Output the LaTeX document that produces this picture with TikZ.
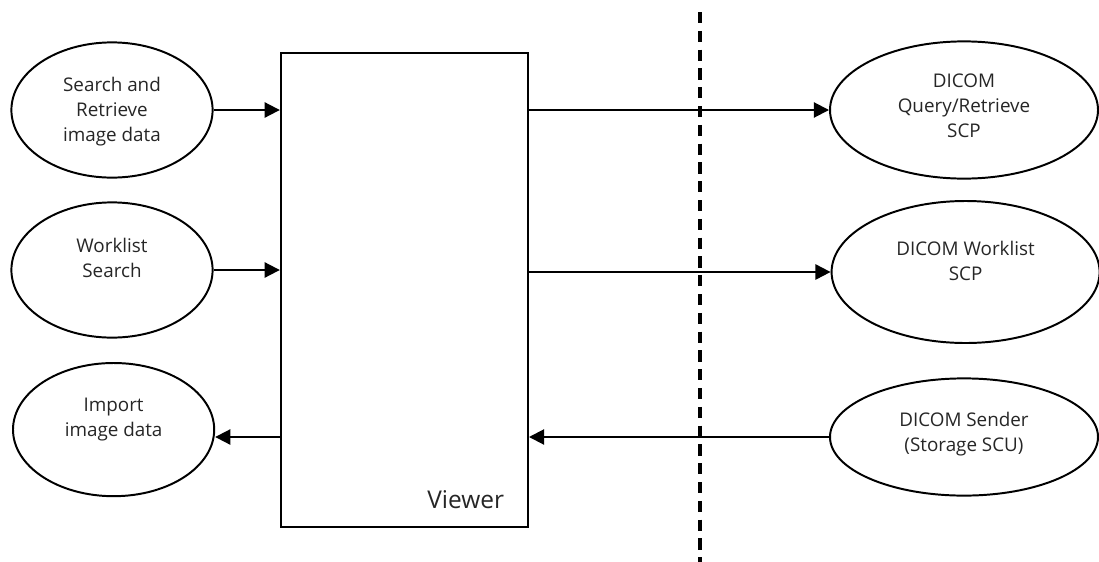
\documentclass[tikz,border=0pt]{standalone}
\usepackage{fontspec}
\setmainfont{Open Sans}
\usetikzlibrary{shapes.geometric,arrows.meta}
\begin{document}
\begin{tikzpicture}[oval/.style={draw=black,ellipse,line width=1.4pt,minimum width=5.03cm,minimum height=3.38cm},
roval/.style={oval,minimum width=6.7cm},
txt/.style={align=center,text=black!85,font=\fontsize{13.4}{17.8}\selectfont},
arr/.style={line width=1.4pt,-{Triangle[length=0.38cm,width=0.38cm]}},
divider/.style={line width=2.5pt,dash pattern=on 0.28cm off 0.19cm}]
\useasboundingbox (0,0) rectangle (27.475,-14.025);
\node[draw=black,rectangle,line width=1.4pt,minimum width=6.18cm,minimum height=11.85cm] (V) at (10.11,-7.25) {};
\node[anchor=base east,text=black!85,font=\fontsize{17.4}{20}\selectfont] (Vt) at ([xshift=-0.5cm,yshift=0.475cm]V.south east) {Viewer};
\node[oval] (SR) at (2.8,-2.75) {};
\node[txt] (SRt) at (2.8,-2.8) {Search and\\Retrieve\\image data};
\node[oval] (WS) at (2.8,-6.75) {};
\node[txt] (WSt) at (2.8,-6.45) {Worklist\\Search};
\node[oval,minimum height=3.33cm] (IM) at (2.84,-10.74) {};
\node[txt] (IMt) at (2.84,-10.48) {Import\\image data};
\node[roval,minimum height=3.43cm] (QR) at (24.1,-2.75) {};
\node[txt] (QRt) at (24.1,-2.65) {DICOM\\Query/Retrieve\\SCP};
\node[roval,minimum height=3.55cm] (DW) at (24.14,-6.8) {};
\node[txt] (DWt) at (24.14,-6.53) {DICOM Worklist\\SCP};
\node[roval,minimum height=2.93cm] (SD) at (24.1,-10.925) {};
\node[txt] (SDt) at (24.1,-10.85) {DICOM Sender\\(Storage SCU)};
\coordinate (Dtop) at (17.5,-0.3);
\coordinate (Dbot) at (17.5,-14.1);
\draw[divider] (Dtop) -- (Dbot);
\draw[arr] (SR) -- (V.west |- SR);
\draw[arr] (WS) -- (V.west |- WS);
\draw[arr] (V.west |- SD) -- (IM.east |- SD);
\draw[arr] (V.east |- QR) -- (QR);
\draw[arr] (V.east |- DW) -- (DW);
\draw[arr] (SD) -- (V.east |- SD);
\end{tikzpicture}
\end{document}
